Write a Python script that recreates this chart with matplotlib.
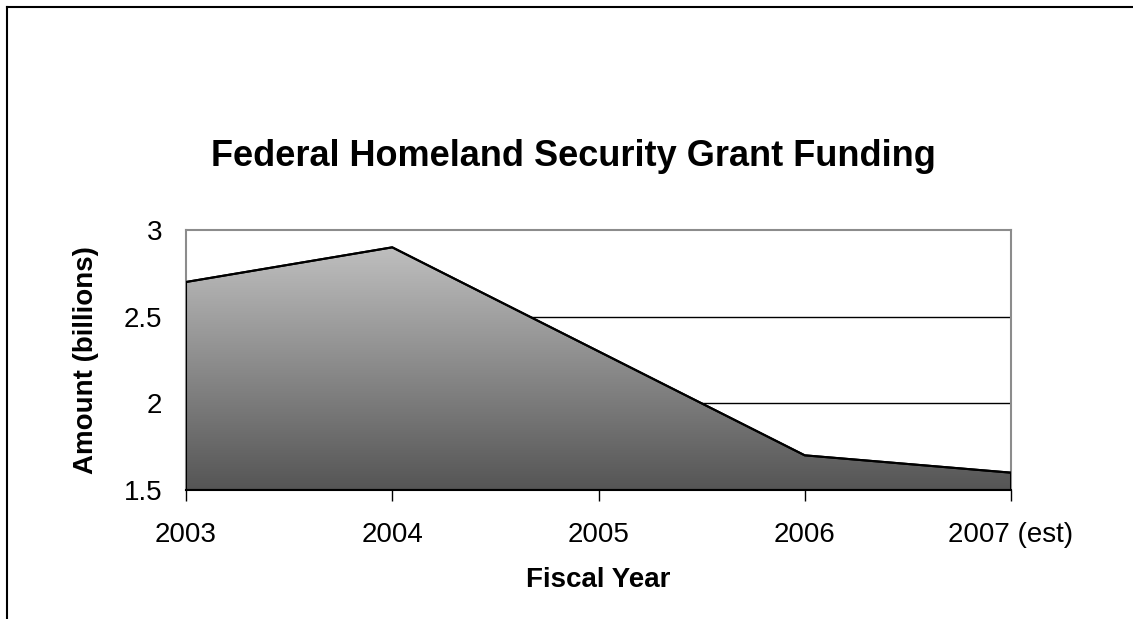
import numpy as np
import matplotlib.pyplot as plt
from matplotlib.lines import Line2D
from matplotlib.colors import LinearSegmentedColormap

plt.rcParams['font.family'] = ['Liberation Sans', 'DejaVu Sans']

# data
years = ['2003', '2004', '2005', '2006', '2007 (est)']
amounts = [2.7, 2.9, 2.3, 1.7, 1.6]
y_ticks = [1.5, 2, 2.5, 3]
y_tick_labels = ['1.5', '2', '2.5', '3']

fig = plt.figure(figsize=(11.33, 6.19), dpi=100)
ax = fig.add_axes([186 / 1133, 1 - 490 / 619, 825 / 1133, 260 / 619])

x = np.arange(len(years))
ymin, ymax = 1.5, 3.0

# gridlines behind the area
for yv in y_ticks[1:-1]:
    ax.axhline(yv, color='black', lw=1, zorder=1)

# gradient filled area, clipped to the polygon
poly = ax.fill_between(x, amounts, ymin, facecolor='none', edgecolor='black', lw=1.5, zorder=3)
grey = LinearSegmentedColormap.from_list('g', ['#555555', '#c6c6c6'])
grad = np.linspace(0, 1, 256).reshape(-1, 1)
img = ax.imshow(grad, cmap=grey, origin='lower', aspect='auto',
                extent=[x[0], x[-1], ymin, ymax], zorder=2)
img.set_clip_path(poly.get_paths()[0], transform=ax.transData)
ax.plot(x, amounts, color='black', lw=1.5, zorder=4)

ax.set_xlim(x[0], x[-1])
ax.set_ylim(ymin, ymax)
ax.set_xticks(x)
ax.set_xticklabels(years, fontsize=20)
ax.set_yticks(y_ticks)
ax.set_yticklabels(y_tick_labels, fontsize=20)
ax.tick_params(axis='y', length=0, pad=17)
ax.tick_params(axis='x', direction='out', length=8, width=1, pad=15, color='black')

for side in ['top', 'right', 'left']:
    ax.spines[side].set_color('#8c8c8c')
    ax.spines[side].set_linewidth(1.5)
ax.spines['bottom'].set_color('black')
ax.spines['bottom'].set_linewidth(1.5)
ax.spines['bottom'].set_zorder(5)

ax.set_xlabel('Fiscal Year', fontsize=20, fontweight='bold', labelpad=14)
ax.set_ylabel('Amount (billions)', fontsize=20, fontweight='bold', labelpad=18)
fig.text(573 / 1133, 1 - 157 / 619, 'Federal Homeland Security Grant Funding',
         ha='center', va='center', fontsize=26, fontweight='bold')

# outer chart frame (only top and left visible)
fig.add_artist(Line2D([7 / 1133, 1], [1 - 7 / 619, 1 - 7 / 619], color='black', lw=1.5,
                      transform=fig.transFigure))
fig.add_artist(Line2D([7 / 1133, 7 / 1133], [0, 1 - 7 / 619], color='black', lw=1.5,
                      transform=fig.transFigure))

fig.savefig('out.png', dpi=100)
